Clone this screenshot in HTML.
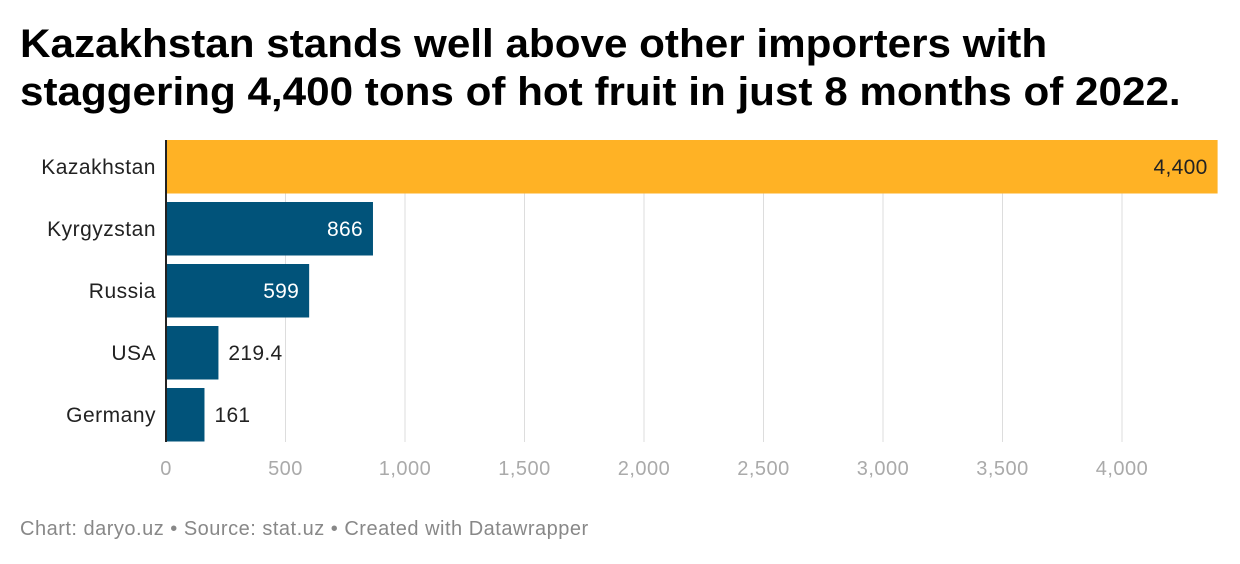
<!DOCTYPE html>
<html><head><meta charset="utf-8"><style>
body{margin:0;background:#fff;width:1240px;height:564px;overflow:hidden;font-family:"Liberation Sans",sans-serif;}
h1{position:absolute;left:20px;top:20px;margin:0;font-size:40px;line-height:48px;font-weight:bold;color:#000;letter-spacing:0px;transform:scaleX(1.055);transform-origin:0 0;white-space:nowrap;}
#foot{position:absolute;left:20px;top:518px;font-size:20px;color:#888;letter-spacing:0.5px;}
</style></head><body>
<h1>Kazakhstan stands well above other importers with<br>staggering 4,400 tons of hot fruit in just 8 months of 2022.</h1>
<svg id="chart" width="1240" height="564" style="position:absolute;left:0;top:0"></svg>
<div id="foot">Chart: daryo.uz • Source: stat.uz • Created with Datawrapper</div>
<script>
const categories=["Kazakhstan","Kyrgyzstan","Russia","USA","Germany"];
const values=[4400,866,599,219.4,161];
const labels=["4,400","866","599","219.4","161"];
const ticks=[0,500,1000,1500,2000,2500,3000,3500,4000];
const tickLabels=["0","500","1,000","1,500","2,000","2,500","3,000","3,500","4,000"];
const NS="http://www.w3.org/2000/svg";
const svg=document.getElementById('chart');
const x=v=>166+v*0.239;
const y=i=>140+i*62;
const bh=53.5;
function mk(t,a){const e=document.createElementNS(NS,t);for(const k in a)e.setAttribute(k,a[k]);svg.appendChild(e);return e;}
ticks.forEach((t,i)=>{
  if(i>0){const g=mk('line',{x1:x(t),x2:x(t),y1:140,y2:442,stroke:'#ddd','stroke-width':1});
  
  }
  const tl=mk('text',{x:x(t),y:475,'text-anchor':'middle','font-size':20,'letter-spacing':0.5,fill:'#aaa'});
  tl.textContent=tickLabels[i];
  
  
});
values.forEach((v,i)=>{
  const r=mk('rect',{x:x(0),y:y(i),width:x(v)-x(0),height:bh,fill:i===0?'#ffb225':'#01537a'});
  
  
  const c=mk('text',{x:156,y:y(i)+bh/2+7,'text-anchor':'end','font-size':21,'letter-spacing':0.5,fill:'#222'});
  c.textContent=categories[i];
  
  
  const w=x(v)-x(0), inside=w>100;
  const l=mk('text',{x:inside?x(v)-10:x(v)+10,y:y(i)+bh/2+7,'text-anchor':inside?'end':'start','font-size':21,'letter-spacing':0.3,fill:i===0?'#222':(inside?'#fff':'#222')});
  l.textContent=labels[i];
  
  
});
const ax=mk('line',{x1:166,x2:166,y1:140,y2:442,stroke:'#222','stroke-width':2});


</script>
</body></html>
